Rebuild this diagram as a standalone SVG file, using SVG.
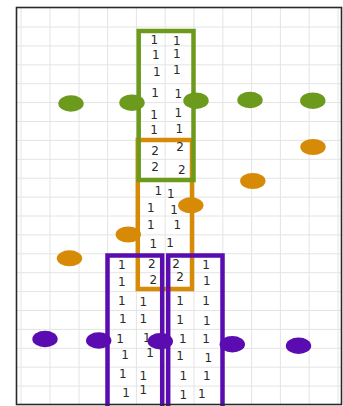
<svg xmlns="http://www.w3.org/2000/svg" width="343" height="406" viewBox="0 0 343 406">
<style>
.grid line{stroke:#e4e4e4;stroke-width:1}
.t{font-family:"DejaVu Sans",sans-serif;font-size:12px;fill:#2a2a2a;text-anchor:middle}
.g{stroke:#6b9a1c}
.o{stroke:#d68a06}
.p{stroke:#5a0cb0}
.box{fill:none;stroke-width:4.5}
.gd{fill:#6b9a1c}
.od{fill:#d68a06}
.pd{fill:#5a0cb0}
</style>
<rect x="0" y="0" width="343" height="406" fill="#ffffff"/>
<g class="grid">
<line x1="21" y1="7" x2="21" y2="405"/><line x1="50" y1="7" x2="50" y2="405"/><line x1="79" y1="7" x2="79" y2="405"/><line x1="107.6" y1="7" x2="107.6" y2="405"/><line x1="136.4" y1="7" x2="136.4" y2="405"/><line x1="165.2" y1="7" x2="165.2" y2="405"/><line x1="194" y1="7" x2="194" y2="405"/><line x1="222.8" y1="7" x2="222.8" y2="405"/><line x1="251.6" y1="7" x2="251.6" y2="405"/><line x1="280.4" y1="7" x2="280.4" y2="405"/><line x1="309.2" y1="7" x2="309.2" y2="405"/><line x1="338" y1="7" x2="338" y2="405"/>
<line x1="16" y1="27" x2="342" y2="27"/><line x1="16" y1="45.9" x2="342" y2="45.9"/><line x1="16" y1="64.8" x2="342" y2="64.8"/><line x1="16" y1="83.7" x2="342" y2="83.7"/><line x1="16" y1="102.6" x2="342" y2="102.6"/><line x1="16" y1="121.5" x2="342" y2="121.5"/><line x1="16" y1="140.4" x2="342" y2="140.4"/><line x1="16" y1="159.3" x2="342" y2="159.3"/><line x1="16" y1="178.2" x2="342" y2="178.2"/><line x1="16" y1="197.1" x2="342" y2="197.1"/><line x1="16" y1="216" x2="342" y2="216"/><line x1="16" y1="234.9" x2="342" y2="234.9"/><line x1="16" y1="253.8" x2="342" y2="253.8"/><line x1="16" y1="272.7" x2="342" y2="272.7"/><line x1="16" y1="291.6" x2="342" y2="291.6"/><line x1="16" y1="310.5" x2="342" y2="310.5"/><line x1="16" y1="329.4" x2="342" y2="329.4"/><line x1="16" y1="348.3" x2="342" y2="348.3"/><line x1="16" y1="367.2" x2="342" y2="367.2"/><line x1="16" y1="386.1" x2="342" y2="386.1"/>
</g>
<g id="orange-box"><rect class="box o" x="137.8" y="140" width="54.2" height="149"/></g>
<g id="green-box"><rect class="box g" x="138.7" y="31" width="54.8" height="149"/></g>
<g id="purple-box-left"><rect class="box p" x="107.5" y="255.5" width="54.7" height="160"/></g>
<g id="purple-box-right"><rect class="box p" x="168.2" y="255.5" width="54.3" height="160"/></g>
<g id="labels">
<text class="t" x="154.3" y="44.3">1</text><text class="t" x="176.7" y="45">1</text>
<text class="t" x="155.7" y="59.3">1</text><text class="t" x="176.7" y="57.6">1</text>
<text class="t" x="156.7" y="76">1</text><text class="t" x="176.7" y="74.3">1</text>
<text class="t" x="155" y="97">1</text><text class="t" x="178.3" y="98.3">1</text>
<text class="t" x="154" y="118.6">1</text><text class="t" x="178.3" y="117">1</text>
<text class="t" x="154" y="134.3">1</text><text class="t" x="179.3" y="132.6">1</text>
<text class="t" x="155" y="155.3">2</text><text class="t" x="180" y="151">2</text>
<text class="t" x="155" y="171">2</text><text class="t" x="181.7" y="174.3">2</text>
<text class="t" x="158.3" y="195">1</text><text class="t" x="170.7" y="197.6">1</text>
<text class="t" x="150.7" y="211.6">1</text><text class="t" x="174" y="213.6">1</text>
<text class="t" x="150.7" y="228.6">1</text><text class="t" x="177.3" y="228.6">1</text>
<text class="t" x="153.3" y="248.3">1</text><text class="t" x="170" y="246.6">1</text>
<text class="t" x="151.7" y="267.6">2</text><text class="t" x="153.3" y="284.3">2</text>
<text class="t" x="176" y="268.3">2</text><text class="t" x="180" y="281">2</text>
<text class="t" x="121.7" y="269.3">1</text><text class="t" x="121.7" y="286">1</text>
<text class="t" x="121.7" y="305">1</text><text class="t" x="143.3" y="306">1</text>
<text class="t" x="122.7" y="323.3">1</text><text class="t" x="143.3" y="323.3">1</text>
<text class="t" x="120" y="342.6">1</text><text class="t" x="146.7" y="341.6">1</text>
<text class="t" x="125" y="359.3">1</text><text class="t" x="150" y="357">1</text>
<text class="t" x="122.7" y="378.3">1</text><text class="t" x="143.3" y="380.3">1</text>
<text class="t" x="126" y="397">1</text><text class="t" x="143.3" y="394.3">1</text>
<text class="t" x="206" y="269.3">1</text><text class="t" x="206.7" y="285">1</text>
<text class="t" x="180" y="305">1</text><text class="t" x="206" y="305">1</text>
<text class="t" x="180" y="324.3">1</text><text class="t" x="206.7" y="325.3">1</text>
<text class="t" x="182.7" y="342.6">1</text><text class="t" x="206" y="342.6">1</text>
<text class="t" x="180" y="360.3">1</text><text class="t" x="208.3" y="361.6">1</text>
<text class="t" x="183.3" y="380.3">1</text><text class="t" x="206.7" y="380.3">1</text>
<text class="t" x="183.3" y="399.3">1</text><text class="t" x="201.7" y="398.3">1</text>
</g>
<g id="green-dots" class="gd">
<ellipse cx="71" cy="103.5" rx="12.7" ry="8.3"/><ellipse cx="132" cy="102.7" rx="12.7" ry="8.3"/><ellipse cx="196" cy="100.7" rx="12.7" ry="8.3"/><ellipse cx="250" cy="100" rx="12.7" ry="8.3"/><ellipse cx="312.8" cy="100.7" rx="12.7" ry="8.3"/>
</g>
<g id="orange-dots" class="od">
<ellipse cx="313" cy="147" rx="12.7" ry="8"/><ellipse cx="252.8" cy="181" rx="12.7" ry="8"/><ellipse cx="190.8" cy="205.3" rx="12.7" ry="8"/><ellipse cx="128.3" cy="234.5" rx="12.7" ry="8"/><ellipse cx="69.5" cy="258.3" rx="12.7" ry="8"/>
</g>
<g id="purple-dots" class="pd">
<ellipse cx="45" cy="339" rx="12.7" ry="8.2"/><ellipse cx="98.7" cy="340.5" rx="12.7" ry="8.2"/><ellipse cx="160.3" cy="341.3" rx="12.7" ry="8.2"/><ellipse cx="232.3" cy="344.3" rx="12.7" ry="8.2"/><ellipse cx="298.5" cy="345.8" rx="12.7" ry="8.2"/>
</g>
<g id="frame"><rect x="16.5" y="7.5" width="325" height="397" fill="none" stroke="#2a2a2a" stroke-width="1.6"/></g>
</svg>
